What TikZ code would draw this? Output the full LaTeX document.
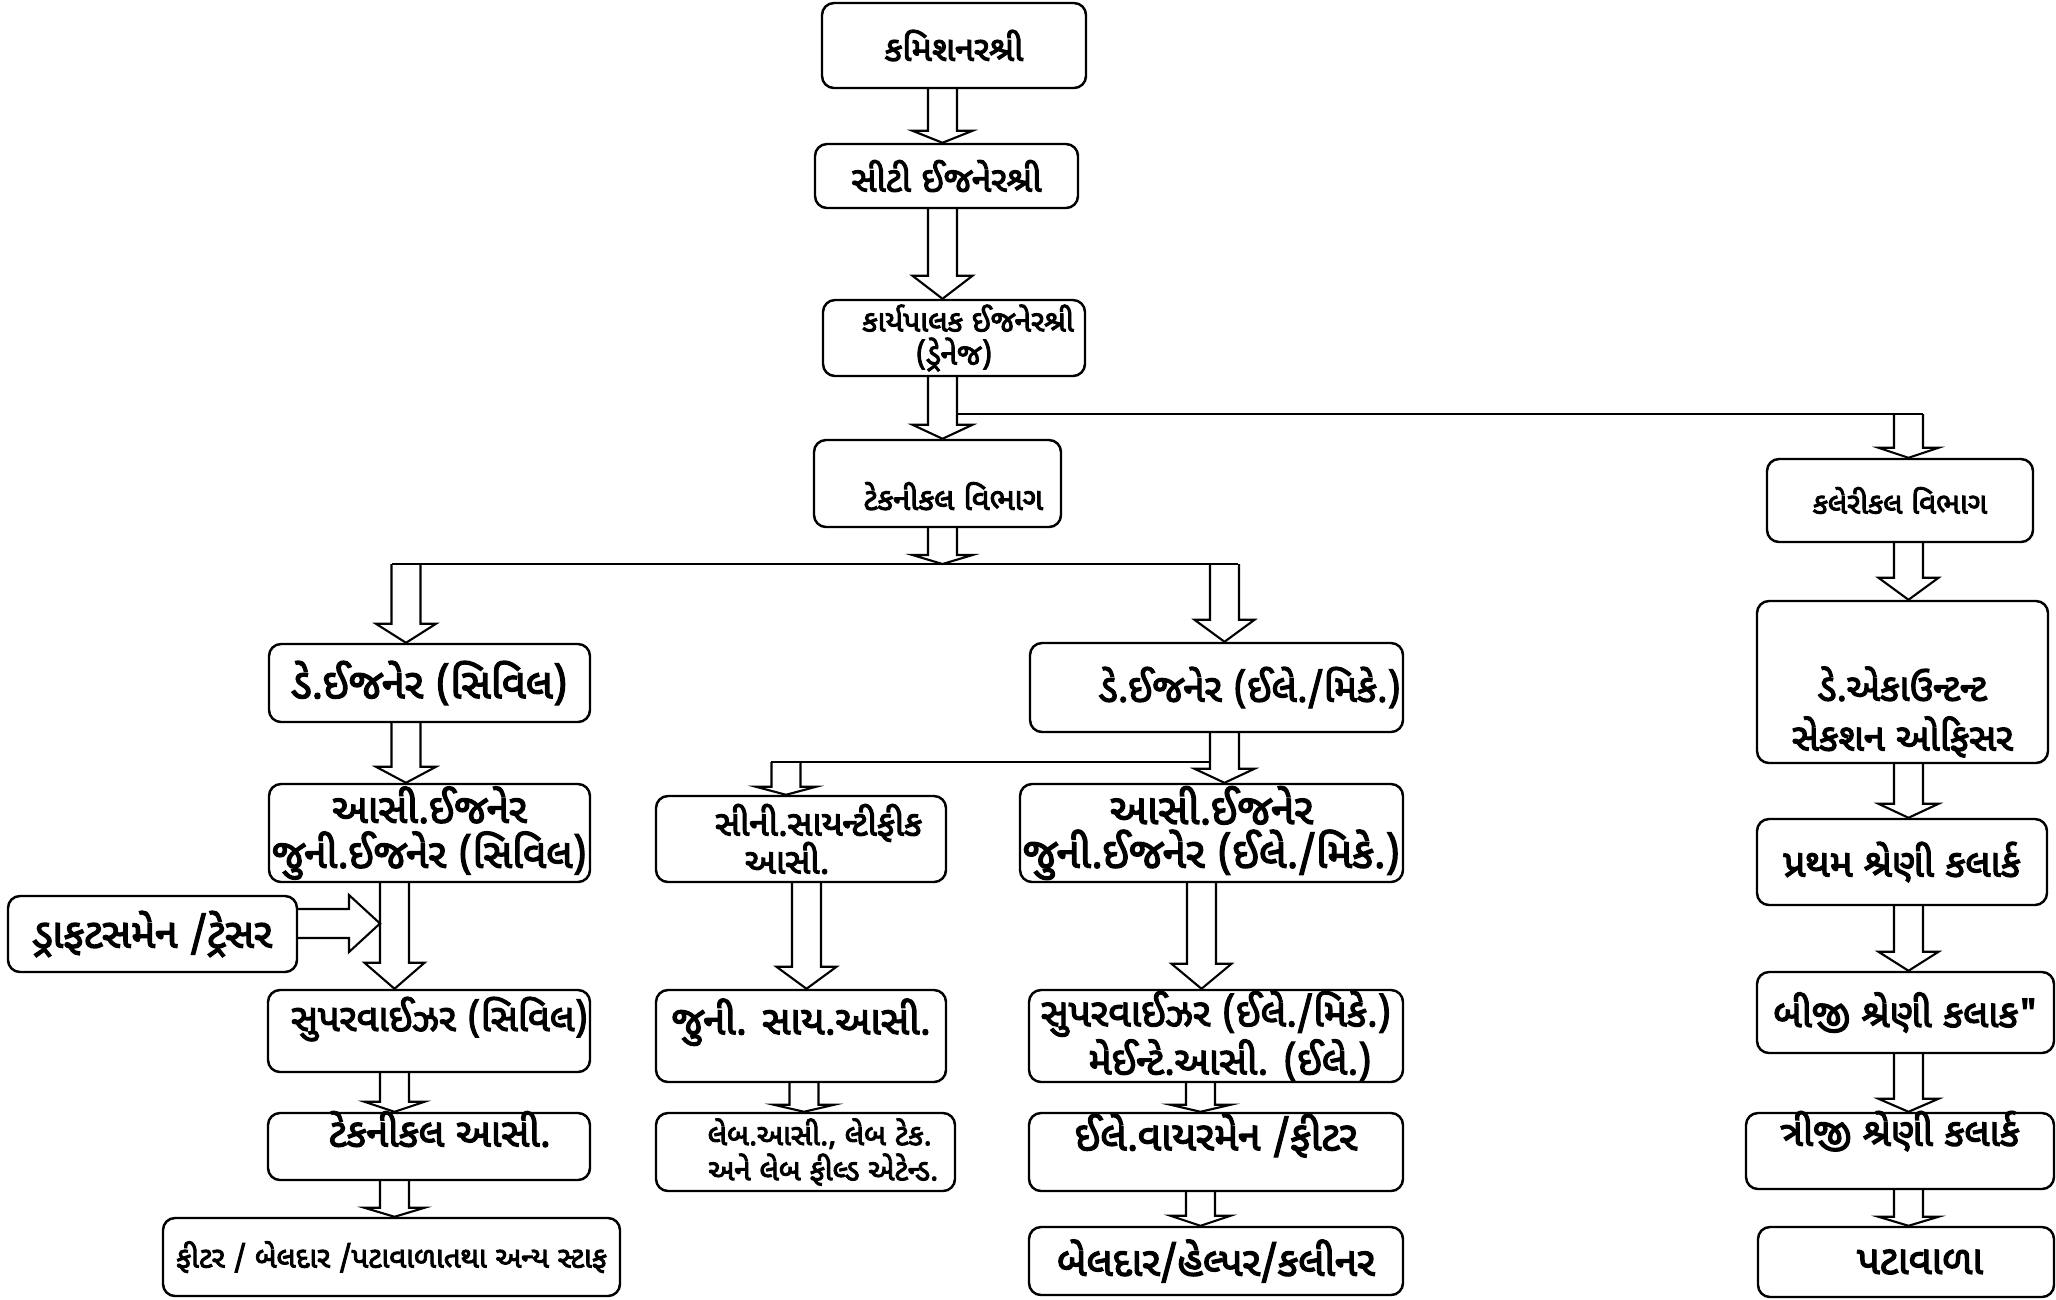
\documentclass[tikz,border=0pt]{standalone}
\usepackage{fontspec}
\usetikzlibrary{calc}
\newfontfamily\guj[Script=Gujarati,AutoFakeBold=3.2]{Noto Sans Gujarati UI}

% hollow block arrow: from point, to point, shaft x, head length
\newcommand{\blkdown}[4]{%
  \coordinate (bx) at (#3,0);
  \draw[blk] ($(#1 -| bx)+(-14.5,0)$) -- ($(#2 -| bx)+(-14.5,-#4)$)
    -- ($(#2 -| bx)+(-30,-#4)$) -- (#2 -| bx) -- ($(#2 -| bx)+(30,-#4)$)
    -- ($(#2 -| bx)+(14.5,-#4)$) -- ($(#1 -| bx)+(14.5,0)$);
}

\begin{document}
\begin{tikzpicture}[x=0.01cm,y=-0.01cm,
    box/.style={draw, line width=0.7pt, rounded corners=1.2mm, align=center, inner sep=0pt},
    sz/.style 2 args={minimum width=#1*0.01cm, minimum height=#2*0.01cm},
    fs/.style 2 args={font=\guj\bfseries\fontsize{#1}{#2}\selectfont},
    blk/.style={line width=0.6pt, line join=miter},
    tup/.style={text height=0pt, text depth=#1},
    tdown/.style={text depth=0pt, text height=#1}]
    \useasboundingbox (0,0) rectangle (2056,1299);

    % top of the chart
    \node[box,fs={9.8}{11},sz={264}{85}] (com) at (954,45.5) {કમિશનરશ્રી};
    \node[box,fs={10}{12},sz={263}{64}] (city) at (946.5,176) {સીટી ઈજનેરશ્રી};
    \node[box,fs={8.5}{9.4},sz={262}{76}] (exe) at (954,338) {\hspace*{8pt}કાર્યપાલક ઈજનેરશ્રી\\(ડ્રેનેજ)};
    \node[box,fs={8.8}{10},sz={247}{87},tdown=15pt] (tech) at (937.5,483.5) {\hspace*{9pt}ટેકનીકલ વિભાગ};
    \node[box,fs={8.4}{10},sz={266}{83}] (cler) at (1900,500.5) {કલેરીકલ વિભાગ};

    % civil branch
    \node[box,fs={11.8}{13},sz={321}{78}] (dec) at (429.5,683) {ડે.ઈજનેર (સિવિલ)};
    \node[box,fs={11.5}{12.8},sz={321}{98}] (aec) at (429.5,833) {આસી.ઈજનેર\\જુની.ઈજનેર (સિવિલ)};
    \node[box,fs={11.6}{13},sz={289}{76}] (dft) at (152.5,934) {ડ્રાફટસમેન /ટ્રેસર};
    \node[box,fs={10.8}{12},sz={322}{82},tup=0pt] (supc) at (429,1031) {\hspace*{6pt}સુપરવાઈઝર (સિવિલ)};
    \node[box,fs={11.2}{12},sz={322}{67},tup=0pt] (tasst) at (429,1146.5) {\hspace*{6pt}ટેકનીકલ આસી.};
    \node[box,fs={8.35}{10},sz={457}{78}] (staff) at (391.5,1257) {ફીટર / બેલદાર /પટાવાળાતથા અન્ય સ્ટાફ};

    % lab branch
    \node[box,fs={10}{10.8},sz={290}{86}] (ssa) at (801,839) {\hspace*{10pt}સીની.સાયન્ટીફીક\\આસી.\hspace*{8pt}};
    \node[box,fs={11.3}{12},sz={290}{92},tup=1pt] (jsa) at (801,1036) {જુની. સાય.આસી.};
    \node[box,fs={8.45}{10},sz={299}{78}] (lab) at (805.5,1152) {\hspace*{8pt}લેબ.આસી., લેબ ટેક.\\\hspace*{10pt}અને લેબ ફીલ્ડ એટેન્ડ.};

    % electrical / mechanical branch
    \node[box,fs={11}{12},sz={373}{89}] (deem) at (1216.5,687.5) {\hspace*{19pt}ડે.ઈજનેર (ઈલે./મિકે.)};
    \node[box,fs={12}{12.4},sz={383}{98}] (aeem) at (1211.5,833) {આસી.ઈજનેર\\જુની.ઈજનેર (ઈલે./મિકે.)};
    \node[box,fs={11.1}{13.7},sz={374}{92}] (supe) at (1216,1036) {સુપરવાઈઝર (ઈલે./મિકે.)\\\hspace*{8pt}મેઈન્ટે.આસી. (ઈલે.)};
    \node[box,fs={11.55}{12},sz={374}{78},tup=1pt] (wire) at (1216,1152) {ઈલે.વાયરમેન /ફીટર};
    \node[box,fs={11.45}{12},sz={374}{68}] (beld) at (1216,1261) {બેલદાર/હેલ્પર/કલીનર};

    % clerical branch
    \node[box,fs={10.8}{14.2},sz={291}{162},tdown=39pt] (dacc) at (1902.5,682) {ડે.એકાઉન્ટન્ટ\\સેકશન ઓફિસર};
    \node[box,fs={11}{12},sz={290}{86}] (cl1) at (1902,862) {પ્રથમ શ્રેણી કલાર્ક};
    \node[box,fs={11}{12},sz={297}{81}] (cl2) at (1905.5,1012.5) {બીજી શ્રેણી કલાક"};
    \node[box,fs={11}{12},sz={308}{76},tup=3pt] (cl3) at (1900,1151) {ત્રીજી શ્રેણી કલાર્ક};
    \node[box,fs={11.4}{12},sz={296}{70}] (pat) at (1906,1262) {\hspace*{8pt}પટાવાળા};

    % branch lines
    \coordinate (cl) at (957,414);
    \coordinate (cr) at (1923,414);
    \coordinate (hl) at (392,564);
    \coordinate (hr) at (1238,564);
    \coordinate (sl) at (771,762);
    \coordinate (sr) at (1211,762);
    \draw[blk] (cl) -- (cr);
    \draw[blk] (hl) -- (hr);
    \draw[blk] (sl) -- (sr);

    % arrows
    \blkdown{com.south}{city.north}{942.5}{12}
    \blkdown{city.south}{exe.north}{942.5}{23}
    \blkdown{exe.south}{tech.north}{942.5}{14}
    \blkdown{tech.south}{hl}{942.5}{9}
    \blkdown{hl}{dec.north}{406}{19}
    \blkdown{dec.south}{aec.north}{406}{16}
    \blkdown{aec.south}{supc.north}{394.5}{26}
    \blkdown{supc.south}{tasst.north}{394.5}{10}
    \blkdown{tasst.south}{staff.north}{394.5}{9}
    \blkdown{hr}{deem.north}{1224.5}{22}
    \blkdown{deem.south}{aeem.north}{1224.5}{14}
    \blkdown{sl}{ssa.north}{786}{8}
    \blkdown{ssa.south}{jsa.north}{806.5}{22}
    \blkdown{jsa.south}{lab.north}{804}{7}
    \blkdown{aeem.south}{supe.north}{1201.5}{25}
    \blkdown{supe.south}{wire.north}{1200.5}{7}
    \blkdown{wire.south}{beld.north}{1200.5}{10}
    \blkdown{cr}{cler.north}{1908.5}{10}
    \blkdown{cler.south}{dacc.north}{1908.5}{22}
    \blkdown{dacc.south}{cl1.north}{1908.5}{14}
    \blkdown{cl1.south}{cl2.north}{1908.5}{19}
    \blkdown{cl2.south}{cl3.north}{1908.5}{13}
    \blkdown{cl3.south}{pat.north}{1908.5}{9}

    % side arrow from the draftsman box
    \coordinate (dtip) at (380,923.5);
    \draw[blk] ($(dft.east |- dtip)+(0,-14.5)$) -- ($(dtip)+(-31,-14.5)$)
        -- ($(dtip)+(-31,-28.5)$) -- (dtip) -- ($(dtip)+(-31,28.5)$)
        -- ($(dtip)+(-31,14.5)$) -- ($(dft.east |- dtip)+(0,14.5)$);
\end{tikzpicture}
\end{document}
